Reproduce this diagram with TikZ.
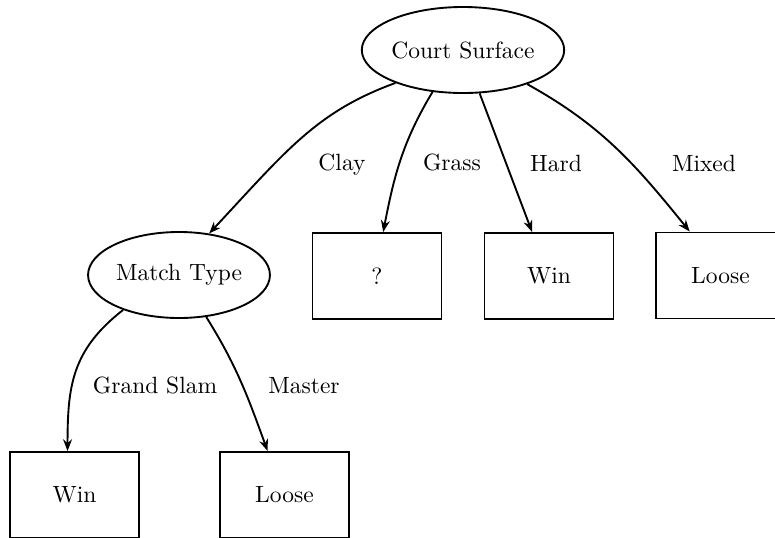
\documentclass[tikz,border=0pt]{standalone}
\usetikzlibrary{shapes.geometric,arrows.meta}

\begin{document}
\begin{tikzpicture}[
    x=0.4255pt, y=-0.4255pt, thick,
    decision/.style={ellipse, draw, inner sep=0pt,
                     minimum height=36.6pt},
    leaf/.style={rectangle, draw, inner sep=0pt,
                 minimum width=54.9pt, minimum height=36.6pt},
    branch/.style={-{Stealth[length=5pt,width=3.8pt,inset=1.6pt]}},
    edgelabel/.style={anchor=base, inner sep=0pt}
]
  \clip (0,0) rectangle (775,538);

  % decision nodes
  \node[decision, minimum width=84.2pt] (cs) at (463,50)  {Court Surface};
  \node[decision, minimum width=77.4pt] (mt) at (179,275) {Match Type};

  % leaves under the surface split
  \node[leaf] (q)  at (377,276)   {?};
  \node[leaf] (w1) at (549,276)   {Win};
  \node[leaf] (l1) at (720.5,275.5) {Loose};

  % leaves under the match type split
  \node[leaf] (w2) at (74.5,495)  {Win};
  \node[leaf] (l2) at (284.5,495) {Loose};

  % branches from Court Surface
  \draw[branch] (cs.206) to[out=200, in=47, out looseness=0.9, in looseness=1.2]  (mt.54.5);
  \draw[branch] (cs.234) to[out=239, in=79]  (q.82);
  \draw[branch] (cs.291.6) -- (w1.111.6);
  \draw[branch] (cs.332) to[out=-29, in=129] (l1.125.5);

  % branches from Match Type
  \draw[branch] (mt.212)   to[out=218, in=90, looseness=1.1]  (w2.99.9);
  \draw[branch] (mt.303.7) to[out=-58, in=110] (l2.111);

  % branch labels
  \node[edgelabel] (lclay)  at (342,170) {Clay};
  \node[edgelabel] (lgrass) at (452,170) {Grass};
  \node[edgelabel] (lhard)  at (556,171) {Hard};
  \node[edgelabel] (lmixed) at (704,171) {Mixed};
  \node[edgelabel] (lgs)    at (155,393) {Grand Slam};
  \node[edgelabel] (lmst)   at (304,393) {Master};
\end{tikzpicture}
\end{document}
